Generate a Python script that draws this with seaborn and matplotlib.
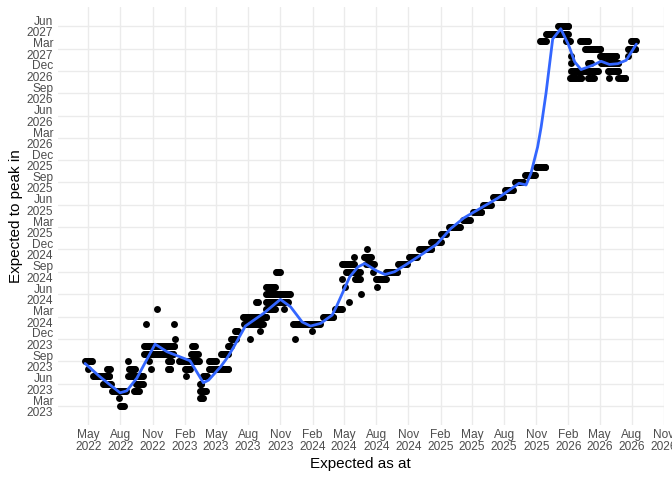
import matplotlib
matplotlib.use("Agg")
import matplotlib.pyplot as plt
import matplotlib.dates as mdates
import seaborn as sns
import numpy as np
import pandas as pd

# runs of the same forecast: observed from run_from to run_to, expected peak month run_peak
run_from = [
    # 2022
    "2022-04-22", "2022-05-01", "2022-06-23", "2022-05-14", "2022-06-11", "2022-07-09", "2022-07-27",
    "2022-07-30", "2022-09-09", "2022-09-15", "2022-08-24", "2022-08-25", "2022-08-24",
    "2022-10-08", "2023-02-22", "2022-10-08", "2023-02-18", "2022-10-22", "2022-12-14", "2023-01-16",
    "2022-10-27", "2022-12-14", "2023-02-01", "2023-02-05", "2022-10-14", "2023-01-02", "2022-11-14",
    "2023-01-05",
    # 2023
    "2023-03-15", "2023-03-15", "2023-03-17",
    "2023-03-25", "2023-04-11", "2023-04-11", "2023-05-14", "2023-06-04", "2023-06-12", "2023-08-06",
    "2023-06-24", "2023-09-03", "2023-07-21", "2023-07-16", "2023-09-21", "2023-11-11", "2023-08-23",
    "2023-09-21", "2023-09-21", "2023-09-21", "2023-10-19",
    "2023-12-07", "2023-12-14", "2024-01-31", "2024-03-02", "2024-04-05",
    # 2024
    "2024-05-16", "2024-06-17", "2024-05-05", "2024-08-03", "2024-04-25", "2024-06-01", "2024-07-31",
    "2024-05-06", "2024-07-22", "2024-08-29", "2024-04-24", "2024-07-03", "2024-10-02", "2024-05-28",
    "2024-06-27", "2024-11-02", "2024-07-06", "2024-12-01", "2025-01-04", "2025-02-02",
    # 2025
    "2025-02-24", "2025-04-06", "2025-05-05", "2025-06-02", "2025-07-01", "2025-08-04", "2025-09-02",
    "2025-09-30", "2025-11-01",
    # late 2025 - 2026
    "2026-01-03", "2025-11-29", "2025-11-12", "2026-01-25", "2026-03-07", "2026-07-30", "2026-03-20",
    "2026-07-22", "2026-02-07", "2026-05-03", "2026-07-22", "2026-02-07", "2026-03-30", "2026-05-06",
    "2026-02-08", "2026-05-26", "2026-02-06", "2026-03-30", "2026-05-28", "2026-06-24",
]
run_to = [
    "2022-05-11", "2022-05-01", "2022-07-01", "2022-06-30", "2022-07-04", "2022-08-17", "2022-07-27",
    "2022-08-10", "2022-09-23", "2022-10-04", "2022-10-05", "2022-09-11", "2022-08-24",
    "2023-01-02", "2023-03-03", "2022-12-29", "2023-03-10", "2022-10-22", "2022-12-24", "2023-03-14",
    "2022-10-27", "2022-12-22", "2023-02-15", "2023-02-05", "2022-10-14", "2023-01-02", "2022-11-14",
    "2023-01-05",
    "2023-03-20", "2023-04-02", "2023-03-25",
    "2023-04-05", "2023-06-05", "2023-05-02", "2023-06-04", "2023-06-12", "2023-06-27", "2023-08-06",
    "2023-07-02", "2023-09-03", "2023-09-12", "2023-09-21", "2023-10-17", "2023-11-11", "2023-08-29",
    "2023-11-23", "2023-11-28", "2023-10-17", "2023-10-31",
    "2024-02-22", "2023-12-14", "2024-01-31", "2024-03-30", "2024-04-25",
    "2024-05-16", "2024-06-17", "2024-05-05", "2024-08-03", "2024-04-25", "2024-06-15", "2024-08-29",
    "2024-06-15", "2024-07-22", "2024-09-29", "2024-05-29", "2024-07-25", "2024-10-28", "2024-05-28",
    "2024-07-17", "2024-11-25", "2024-07-06", "2025-01-04", "2025-02-02", "2025-02-16",
    "2025-03-28", "2025-04-26", "2025-05-28", "2025-06-25", "2025-07-30", "2025-08-27", "2025-09-25",
    "2025-10-29", "2025-11-27",
    "2026-01-31", "2026-01-31", "2025-11-29", "2026-02-06", "2026-03-30", "2026-08-14", "2026-05-03",
    "2026-08-11", "2026-02-07", "2026-06-18", "2026-07-22", "2026-02-07", "2026-04-07", "2026-06-24",
    "2026-04-27", "2026-06-24", "2026-03-10", "2026-04-14", "2026-05-28", "2026-07-14",
]
run_peak = [
    "2023-09", "2023-08", "2023-08", "2023-07", "2023-06", "2023-05", "2023-04",
    "2023-03", "2023-05", "2023-06", "2023-07", "2023-08", "2023-09",
    "2023-11", "2023-11", "2023-10", "2023-10", "2023-09", "2023-09", "2023-09",
    "2023-08", "2023-08", "2023-08", "2023-07", "2024-02", "2024-02", "2024-04",
    "2023-12",
    "2023-06", "2023-05", "2023-04",
    "2023-07", "2023-08", "2023-09", "2023-10", "2023-11", "2023-12", "2023-12",
    "2024-01", "2024-01", "2024-02", "2024-03", "2024-04", "2024-04", "2024-05",
    "2024-05", "2024-06", "2024-07", "2024-09",
    "2024-02", "2023-12", "2024-01", "2024-03", "2024-04",
    "2024-05", "2024-06", "2024-07", "2024-07", "2024-08", "2024-08", "2024-08",
    "2024-09", "2024-09", "2024-09", "2024-10", "2024-10", "2024-10", "2024-11",
    "2024-11", "2024-11", "2024-12", "2024-12", "2025-01", "2025-02",
    "2025-03", "2025-04", "2025-05", "2025-06", "2025-07", "2025-08", "2025-09",
    "2025-10", "2025-11",
    "2027-06", "2027-05", "2027-04", "2027-04", "2027-04", "2027-04", "2027-03",
    "2027-03", "2027-02", "2027-02", "2027-02", "2027-01", "2027-01", "2027-01",
    "2026-12", "2026-12", "2026-11", "2026-11", "2026-11", "2026-11",
]

# smoothed trend (blue line)
trend_x = [
    "2022-04-22", "2022-06-04", "2022-07-31", "2022-08-19", "2022-09-17", "2022-11-08", "2022-12-12",
    "2023-02-16", "2023-03-26", "2023-04-10", "2023-05-14", "2023-06-01", "2023-06-19", "2023-07-24",
    "2023-09-14", "2023-11-01", "2023-11-30", "2024-01-02", "2024-01-26", "2024-02-24", "2024-03-28",
    "2024-04-09", "2024-05-17", "2024-06-10", "2024-06-29", "2024-08-02", "2024-08-26", "2024-09-22",
    "2024-10-27", "2024-12-13", "2025-01-21", "2025-03-02", "2025-04-08", "2025-07-14", "2025-09-13",
    "2025-10-03", "2025-10-17", "2025-11-05", "2025-11-15", "2025-11-29", "2025-12-18", "2026-01-10",
    "2026-02-01", "2026-02-19", "2026-03-09", "2026-04-12", "2026-05-05", "2026-05-29", "2026-06-22",
    "2026-07-16", "2026-08-14",
]
trend_y = [
    "2023-08-22", "2023-06-28", "2023-04-24", "2023-05-02", "2023-06-23", "2023-11-09", "2023-10-09",
    "2023-09-02", "2023-06-04", "2023-06-15", "2023-08-08", "2023-09-12", "2023-10-24", "2024-01-22",
    "2024-03-14", "2024-05-10", "2024-04-10", "2024-02-08", "2024-01-22", "2024-02-02", "2024-03-07",
    "2024-04-10", "2024-08-10", "2024-09-20", "2024-10-04", "2024-09-04", "2024-08-20", "2024-08-31",
    "2024-10-01", "2024-11-14", "2024-12-22", "2025-02-24", "2025-04-08", "2025-06-28", "2025-08-28",
    "2025-08-21", "2025-10-08", "2026-01-24", "2026-04-15", "2026-09-01", "2027-04-10", "2027-05-22",
    "2027-03-18", "2027-01-06", "2026-12-06", "2026-12-24", "2027-01-09", "2026-12-27", "2026-12-30",
    "2027-01-13", "2027-03-20",
]

rows = []
for a, b, m in zip(run_from, run_to, run_peak):
    days = pd.date_range(a, b, freq="3D")
    if days[-1] != pd.Timestamp(b):
        days = days.append(pd.DatetimeIndex([b]))
    for d in days:
        rows.append((d, pd.Timestamp(m + "-01")))
df = pd.DataFrame(rows, columns=["as_at", "peak"])
df["x"] = mdates.date2num(df["as_at"])
df["y"] = mdates.date2num(df["peak"])

trend = pd.DataFrame({"x": mdates.date2num(pd.to_datetime(trend_x)),
                      "y": mdates.date2num(pd.to_datetime(trend_y))})

sns.set_theme(style="whitegrid")
plt.rcParams["font.family"] = ["Liberation Sans", "DejaVu Sans"]

fig = plt.figure(figsize=(6.72, 4.8), dpi=100)
ax = fig.add_axes([57.5 / 672, 55 / 480, 606.5 / 672, 417.7 / 480])

sns.scatterplot(data=df, x="x", y="y", color="black", s=25, linewidth=0, ax=ax, zorder=3)
sns.lineplot(data=trend, x="x", y="y", color="#3366FF", linewidth=2, estimator=None, sort=False,
             ax=ax, zorder=4)

# ggplot-like 5% expansion
x0, x1 = df["x"].min(), df["x"].max()
y0, y1 = df["y"].min(), df["y"].max()
ax.set_xlim(x0 - 0.05 * (x1 - x0), x1 + 0.05 * (x1 - x0))
ax.set_ylim(y0 - 0.05 * (y1 - y0), y1 + 0.05 * (y1 - y0))

xt = pd.date_range("2022-05-01", "2026-11-01", freq="3MS")
yt = pd.date_range("2023-03-01", "2027-06-01", freq="3MS")
ax.set_xticks(mdates.date2num(xt))
ax.set_xticklabels([d.strftime("%b\n%Y") for d in xt], linespacing=1.0)
ax.set_yticks(mdates.date2num(yt))
ax.set_yticklabels([d.strftime("%b\n%Y") for d in yt], linespacing=0.95, ha="right", multialignment="right")

ax.tick_params(axis="both", length=0, labelsize=8.6, labelcolor="#4D4D4D")
ax.tick_params(axis="x", pad=3)
ax.tick_params(axis="y", pad=3)
ax.grid(True, color="#EBEBEB", linewidth=1.0)
ax.set_axisbelow(True)
for sp in ax.spines.values():
    sp.set_visible(False)

ax.set_xlabel("Expected as at", fontsize=11, color="black", labelpad=3)
ax.set_ylabel("Expected to peak in", fontsize=11, color="black", labelpad=3)

fig.savefig("out.png", dpi=100)
